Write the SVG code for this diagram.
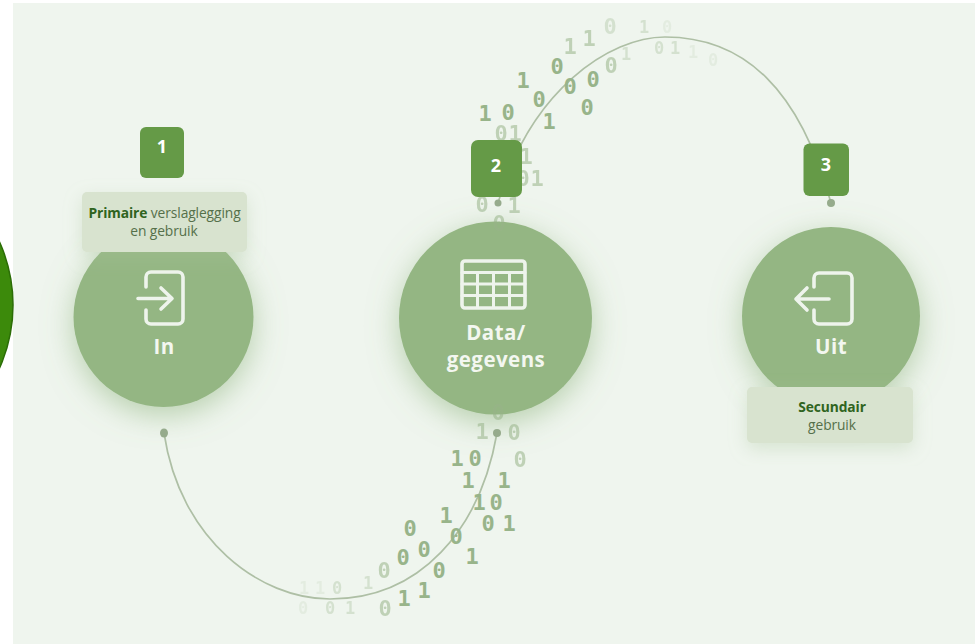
<svg xmlns="http://www.w3.org/2000/svg" width="975" height="644" viewBox="0 0 975 644">
<style>
.hub{fill:#94b683;filter:url(#sh)}
.ico{fill:none;stroke:#eef4ec;stroke-width:3.6;stroke-linecap:round;stroke-linejoin:round}
.tl{font:700 20.500px "Open Sans","Noto Sans",sans-serif;fill:#f3f7f0;text-anchor:middle;letter-spacing:.45px}
.bd{fill:#659a47}
.bn{font:700 18px "Open Sans","Noto Sans",sans-serif;fill:#fff;text-anchor:middle}
.lb{fill:#d8e3cf;filter:url(#sl)}
.lt{font:400 13.800px "Open Sans","Noto Sans",sans-serif;fill:#55704a;text-anchor:middle;letter-spacing:-.1px}
.lt tspan{font-weight:700;fill:#2f6420}
.ln{fill:none;stroke:#aebfa5;stroke-width:1.7}
.dt{fill:#96ab8c}
.d text{font:700 22px "DejaVu Sans Mono","Liberation Mono",monospace;fill:#98b48a;text-anchor:middle}
.d .s{font-size:17px}
.o5{opacity:.55}.o3{opacity:.3}.o1{opacity:.13}
</style>
<defs>
<filter id="sh" x="-40%" y="-40%" width="180%" height="190%"><feDropShadow dx="0" dy="8" stdDeviation="15" flood-color="#7fa96a" flood-opacity=".5"/></filter>
<filter id="sl" x="-20%" y="-30%" width="140%" height="170%"><feDropShadow dx="0" dy="6" stdDeviation="9" flood-color="#a9c39a" flood-opacity=".35"/></filter>
</defs>
<rect width="975" height="644" fill="#fff"/>
<rect x="13" y="3" width="962" height="641" fill="#eff5ee"/>
<circle id="edge-shape" cx="-141" cy="305" r="154" fill="#3c8a0b" stroke="#2b6d06" stroke-width="1.5"/>
<g id="node-in"><circle class="hub" cx="163.500" cy="317" r="90"/>
<path class="ico" d="M146 287V277a5 5 0 0 1 5-5h27a5 5 0 0 1 5 5v42a5 5 0 0 1-5 5h-27a5 5 0 0 1-5-5v-9M138 298.500h33M161 288l11 10.500-11 10.500"/>
<text class="tl" x="164" y="354">In</text></g>
<g id="node-data"><circle class="hub" cx="495.500" cy="318" r="96.500"/>
<rect class="ico" x="462" y="261" width="63" height="47" rx="3"/>
<path class="ico" style="stroke-width:3" d="M462 272.500h63M462 284h63M462 295.500h63M477.500 272.500v35M493.500 272.500v35M509.500 272.500v35"/>
<text class="tl" x="496" y="340">Data/</text><text class="tl" x="496" y="367">gegevens</text></g>
<g id="node-uit"><circle class="hub" cx="831" cy="316" r="89"/>
<path class="ico" d="M814 287V278a5 5 0 0 1 5-5h28a5 5 0 0 1 5 5v41a5 5 0 0 1-5 5h-28a5 5 0 0 1-5-5v-9M829 299H796M807 288l-11 11 11 11"/>
<text class="tl" x="831" y="354">Uit</text></g>
<g id="connectors">
<path class="ln" d="M164 433C180 540 260 599 330 599C420 599 480 530 497 433"/>
<path class="ln" d="M498 203C530 90 610 37 665 37C745 37 800 90 831 203"/>
<ellipse class="dt" cx="164" cy="433" rx="4" ry="4.500"/><circle class="dt" cx="497" cy="433" r="4"/><circle class="dt" cx="498" cy="203" r="3.500"/><circle class="dt" cx="831" cy="203" r="4"/>
<g class="d">
<text x="523" y="88">1</text><text x="485" y="121">1</text><text x="508" y="120">0</text><text x="539" y="107">0</text><text x="557" y="74">0</text><text x="570" y="94">0</text><text x="593" y="87">0</text><text x="587" y="115">0</text><text x="549" y="129">1</text>
<text class="o5" x="570" y="54">1</text><text class="o5" x="589" y="46">1</text><text class="o5" x="611" y="73">0</text><text class="o5" x="501" y="141">0</text><text class="o5" x="515" y="141">1</text><text class="o5" x="526" y="164">1</text><text class="o5" x="523" y="186">0</text><text class="o5" x="537" y="186">1</text><text class="o5" x="482" y="212">0</text><text class="o5" x="514" y="213">1</text>
<text class="o3" x="610" y="34">0</text><text class="o3 s" x="626" y="60">1</text><text class="o5" x="499" y="231">0</text>
<text class="o3 s" x="644" y="33">1</text><text class="o1 s" x="667" y="33">0</text><text class="o3 s" x="659" y="54">0</text><text class="o3 s" x="675" y="54">1</text><text class="o1 s" x="693" y="58">1</text><text class="o1 s" x="713" y="66">0</text>
<text class="o5" x="498" y="420">0</text><text class="o5" x="482" y="439">1</text><text class="o5" x="514" y="440">0</text><text x="457" y="466">1</text><text x="475" y="466">0</text><text class="o5" x="520" y="467">0</text><text x="468" y="488">1</text><text x="504" y="488">1</text><text x="479" y="510">1</text><text x="496" y="510">0</text><text x="446" y="523">1</text><text x="410" y="536">0</text><text x="488" y="531">0</text><text x="509" y="531">1</text><text x="456" y="544">0</text><text x="424" y="557">0</text><text x="403" y="565">0</text><text x="472" y="564">1</text><text x="439" y="578">0</text><text class="o5" x="384" y="578">0</text><text class="o3 s" x="368" y="589">1</text><text x="424" y="598">1</text><text x="404" y="606">1</text><text class="o5" x="385" y="616">0</text>
<text class="o3 s" x="337" y="594">0</text><text class="o1 s" x="320" y="594">1</text><text class="o1 s" x="304" y="594">1</text><text class="o3 s" x="330" y="614">0</text><text class="o3 s" x="350" y="614">1</text><text class="o1 s" x="303" y="614">0</text>
</g></g>
<g id="badge-1"><rect class="bd" x="140" y="127" width="44" height="51" rx="6"/><text class="bn" x="162" y="153">1</text></g>
<g id="badge-2"><rect class="bd" x="471" y="140" width="51" height="57" rx="7"/><text class="bn" x="496" y="172">2</text></g>
<g id="badge-3"><rect class="bd" x="803.500" y="143.500" width="45.500" height="52.500" rx="6"/><text class="bn" x="826" y="171">3</text></g>
<g id="label-primair"><rect class="lb" x="82" y="192" width="165" height="60" rx="5"/>
<text class="lt" x="164.500" y="218"><tspan>Primaire</tspan> verslaglegging</text><text class="lt" x="164" y="236">en gebruik</text></g>
<g id="label-secundair"><rect class="lb" x="747" y="387" width="166" height="56" rx="5"/>
<text class="lt" x="832" y="412"><tspan>Secundair</tspan></text><text class="lt" x="832" y="430">gebruik</text></g>
</svg>
